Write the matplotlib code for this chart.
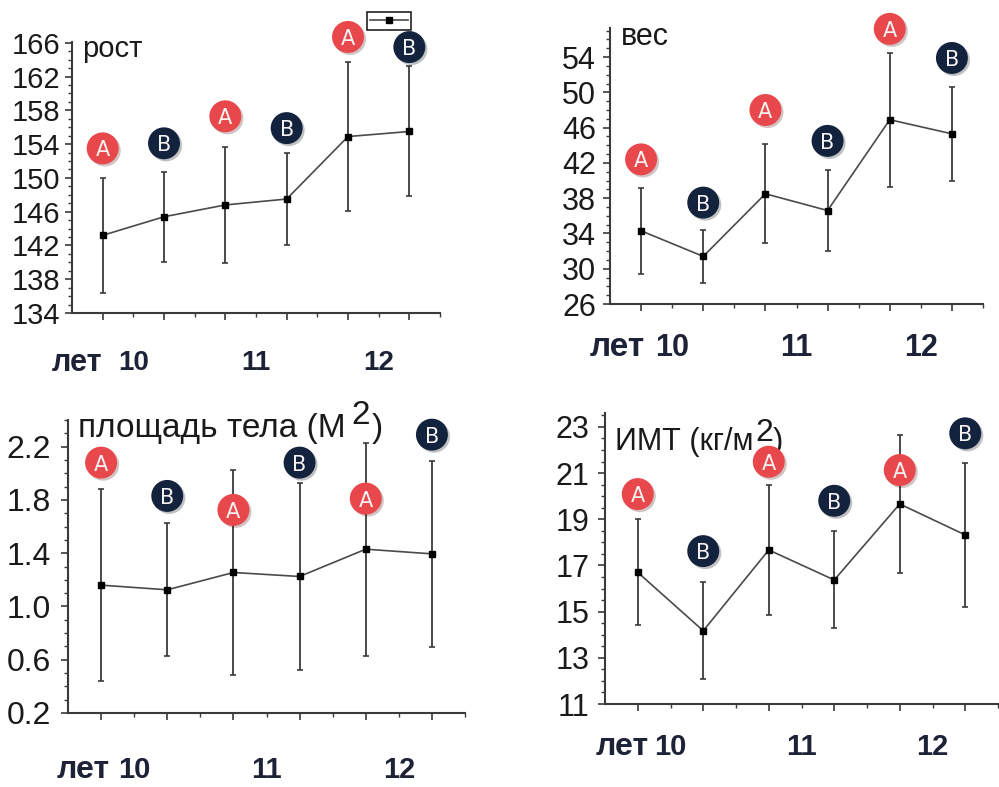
import numpy as np
import matplotlib.pyplot as plt
import matplotlib.patheffects as pe
from matplotlib.ticker import MultipleLocator, FormatStrFormatter

plt.rcParams['font.family'] = ['Liberation Sans', 'DejaVu Sans']

# шесть точек: 10, 11, 12 лет, группы A и B поочерёдно
x = np.arange(1, 7)
groups = ['A', 'B', 'A', 'B', 'A', 'B']
ages = ['10', '11', '12']
age_prefix = 'лет'

height_mean = [143.2, 145.4, 146.8, 147.5, 154.9, 155.5]
height_sd = [6.8, 5.3, 6.9, 5.5, 8.8, 7.7]
height_badge = [153.5, 154.1, 157.3, 155.9, 166.7, 165.5]

weight_mean = [34.3, 31.4, 38.5, 36.6, 46.9, 45.3]
weight_sd = [4.9, 3.0, 5.6, 4.6, 7.6, 5.3]
weight_badge = [42.4, 37.5, 48.0, 44.5, 57.2, 53.9]

bsa_mean = [1.16, 1.125, 1.255, 1.225, 1.43, 1.395]
bsa_sd = [0.72, 0.50, 0.77, 0.70, 0.80, 0.70]
bsa_badge = [2.08, 1.83, 1.725, 2.08, 1.81, 2.29]

bmi_mean = [16.70, 14.17, 17.67, 16.37, 19.66, 18.32]
bmi_sd = [2.3, 2.1, 2.8, 2.1, 3.0, 3.1]
bmi_badge = [20.09, 17.62, 21.49, 19.8, 21.13, 22.72]

badge_colors = {'A': '#e8474b', 'B': '#14233d'}
axis_col = '#3a3a3a'
label_col = '#1d2236'

W, H = 999, 787
fig = plt.figure(figsize=(W / 100, H / 100), dpi=100)


def px_axes(left, top, right, bottom):
    return fig.add_axes([left / W, 1 - bottom / H, (right - left) / W, (bottom - top) / H])


def panel(ax, mean, sd, badge, ylim, yticks, minor, fmt, ysize, ypad, lsize, ldrop, ltrim):
    ax.errorbar(x, mean, yerr=sd, fmt='none', ecolor='#3c3c3c', elinewidth=1.3,
                capsize=2, capthick=1.2, zorder=2)
    line, = ax.plot(x, mean, '-s', color='#4a4a4a', lw=1.2, ms=4,
                    mfc='black', mec='black', zorder=3)

    for xi, yi, g in zip(x, badge, groups):
        ax.plot(xi, yi, 'o', ms=23, color=badge_colors[g], mec='none', clip_on=False,
                zorder=6, path_effects=[pe.SimplePatchShadow(offset=(1.5, -1.5), alpha=0.25),
                                        pe.Normal()])
        ax.text(xi, yi, g, ha='center', va='center_baseline', color='#f6f2f2',
                fontsize=15, family='DejaVu Sans', zorder=7)

    ax.set_xlim(0.5, 6.5)
    ax.set_ylim(*ylim)
    ax.set_xticks(x)
    ax.set_xticks(np.arange(1.5, 7, 1), minor=True)
    ax.set_yticks(yticks)
    ax.yaxis.set_minor_locator(MultipleLocator(minor))
    ax.yaxis.set_major_formatter(FormatStrFormatter(fmt))
    ax.tick_params(axis='x', which='both', labelbottom=False, direction='out', color=axis_col)
    ax.tick_params(axis='y', which='both', direction='out', color=axis_col,
                   labelsize=ysize, labelcolor='#1a1a1a', pad=ypad)
    ax.tick_params(which='major', length=5, width=1.2)
    ax.tick_params(which='minor', length=3, width=1)
    for s in ['top', 'right']:
        ax.spines[s].set_visible(False)
    for s in ['left', 'bottom']:
        ax.spines[s].set_color(axis_col)
        ax.spines[s].set_linewidth(1.5)

    # подписи возраста под осью
    for pos, age in zip([1.5, 3.5, 5.5], ages):
        ax.annotate(age, xy=(pos, 0), xycoords=('data', 'axes fraction'),
                    xytext=(0, -ldrop), textcoords='offset pixels', ha='center',
                    va='center', fontsize=lsize, fontweight='bold', color=label_col)
    ax.annotate(age_prefix, xy=(1.5, 0), xycoords=('data', 'axes fraction'),
                xytext=(-ltrim, -ldrop), textcoords='offset pixels', ha='right',
                va='center', fontsize=lsize + 2, fontweight='bold', color=label_col)
    return line


# рост
ax1 = px_axes(72, 42, 440, 313)
line1 = panel(ax1, height_mean, height_sd, height_badge, (134, 166.1),
              np.arange(134, 167, 4), 1, '%d', 21, 3.5, 20, 50, 31)
ax1.text(0.027, 0.975, 'рост', transform=ax1.transAxes, fontsize=21, va='center', color='#1a1a1a')
leg = ax1.legend([line1], [''], loc='upper left', bbox_to_anchor=(367 / W, 1 - 12 / H),
                 bbox_transform=fig.transFigure, frameon=True, fancybox=False,
                 edgecolor='#222222', framealpha=1, handlelength=3.0, handletextpad=0,
                 borderpad=0.25, borderaxespad=0, fontsize=9)
leg.get_frame().set_linewidth(1.2)

# вес
ax2 = px_axes(610, 28, 983, 304)
panel(ax2, weight_mean, weight_sd, weight_badge, (26, 57.3),
      np.arange(26, 55, 4), 1, '%d', 22, 5, 22, 44, 27)
ax2.text(0.029, 0.968, 'вес', transform=ax2.transAxes, fontsize=22, va='center', color='#1a1a1a')

# площадь тела
ax3 = px_axes(68, 420, 465, 713)
panel(ax3, bsa_mean, bsa_sd, bsa_badge, (0.2, 2.4),
      np.arange(0.2, 2.3, 0.4), 0.1, '%.1f', 23, 7, 21, 57, 24)
t1 = ax3.text(0.025, 0.972, 'площадь тела (М', transform=ax3.transAxes, fontsize=24,
              va='center', color='#1a1a1a')
t2 = ax3.annotate('2', xy=(1, 0), xycoords=t1, xytext=(6, 13), textcoords='offset pixels',
                  va='bottom', fontsize=24, color='#1a1a1a')
ax3.annotate(')', xy=(1, 0), xycoords=(t2, t1), xytext=(2, 0), textcoords='offset pixels',
             va='bottom', fontsize=24, color='#1a1a1a')

# ИМТ
ax4 = px_axes(605, 413, 998, 704)
panel(ax4, bmi_mean, bmi_sd, bmi_badge, (11, 23.6),
      np.arange(11, 23.1, 2), 0.5, '%d', 22, 6, 21, 43, 22)
t3 = ax4.text(0.025, 0.902, 'ИМТ (кг/м', transform=ax4.transAxes, fontsize=22,
              va='center', color='#1a1a1a')
t4 = ax4.annotate('2', xy=(1, 0), xycoords=t3, xytext=(2, 9), textcoords='offset pixels',
                  va='bottom', fontsize=23, color='#1a1a1a')
ax4.annotate(')', xy=(1, 0), xycoords=(t4, t3), xytext=(0, 0), textcoords='offset pixels',
             va='bottom', fontsize=22, color='#1a1a1a')

fig.savefig('out.png', dpi=100)
